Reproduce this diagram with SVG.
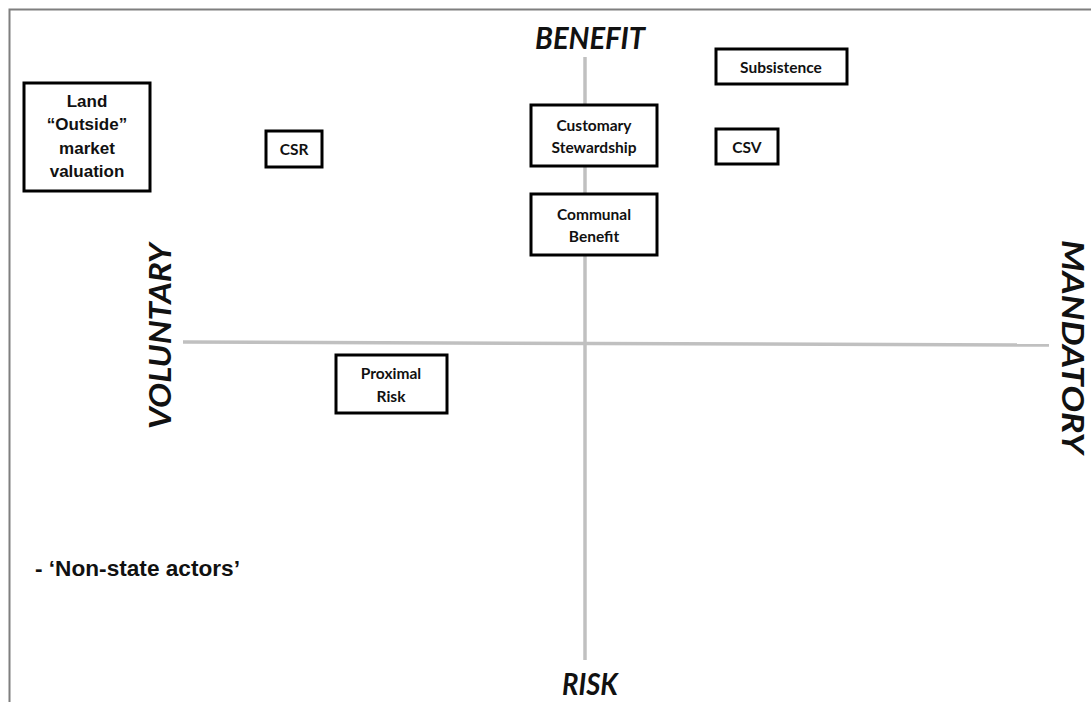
<svg xmlns="http://www.w3.org/2000/svg" width="1091" height="702" viewBox="0 0 1091 702">
  <style>
    .frame { stroke: #7f7f7f; stroke-width: 2; fill: none; }
    .axis { stroke: #c0c0c0; stroke-width: 3.5; fill: none; }
    .box { fill: #ffffff; stroke: #000000; stroke-width: 3; }
    .lbl { font-family: Lato, "Open Sans", sans-serif; font-weight: bold; font-size: 15.5px; fill: #111; text-anchor: middle; }
    .arial { font-family: "Liberation Sans", Arial, sans-serif; font-weight: bold; fill: #111; text-anchor: middle; }
    .note { font-family: "Liberation Sans", Arial, sans-serif; font-weight: bold; font-size: 22px; fill: #111; text-anchor: start; }
    .dim { font-family: Lato, "Open Sans", sans-serif; font-weight: bold; font-style: italic; font-size: 31px; fill: #111; text-anchor: middle; }
  </style>
  <rect width="1091" height="702" fill="#ffffff"/>
  <!-- page frame: top and left edges only -->
  <path class="frame" d="M1091 9.5 H9.5 V702"/>

  <g id="connectors">
    <line class="axis" x1="585" y1="57" x2="585" y2="660"/>
    <line class="axis" x1="183" y1="342" x2="1049" y2="345"/>
  </g>

  <!-- axis captions -->
  <text class="dim" x="590" y="49" textLength="110" lengthAdjust="spacingAndGlyphs">BENEFIT</text>
  <text class="dim" x="590" y="695" textLength="56" lengthAdjust="spacingAndGlyphs">RISK</text>
  <text class="dim" transform="translate(171,336) rotate(-90)" textLength="186" lengthAdjust="spacingAndGlyphs">VOLUNTARY</text>
  <text class="dim" transform="translate(1062,347) rotate(90)" textLength="214" lengthAdjust="spacingAndGlyphs">MANDATORY</text>

  <g id="node-land">
    <rect class="box" x="24" y="83" width="126" height="108"/>
    <text class="arial" font-size="17" x="87" y="107">Land</text>
    <text class="arial" font-size="17" x="87" y="130">“Outside”</text>
    <text class="arial" font-size="17" x="87" y="154">market</text>
    <text class="arial" font-size="17" x="87" y="177">valuation</text>
  </g>

  <g id="node-csr">
    <rect class="box" x="266" y="131" width="56" height="36"/>
    <text class="lbl" x="294" y="155">CSR</text>
  </g>

  <g id="node-subsistence">
    <rect class="box" x="716" y="49" width="131" height="35"/>
    <text class="lbl" x="781" y="73">Subsistence</text>
  </g>

  <g id="node-customary">
    <rect class="box" x="531" y="105" width="126" height="61"/>
    <text class="lbl" x="594" y="131">Customary</text>
    <text class="lbl" x="594" y="153">Stewardship</text>
  </g>

  <g id="node-csv">
    <rect class="box" x="716" y="129" width="62" height="35"/>
    <text class="lbl" x="747" y="153">CSV</text>
  </g>

  <g id="node-communal">
    <rect class="box" x="531" y="194" width="126" height="61"/>
    <text class="lbl" x="594" y="220">Communal</text>
    <text class="lbl" x="594" y="242">Benefit</text>
  </g>

  <g id="node-proximal">
    <rect class="box" x="336" y="355" width="111" height="58"/>
    <text class="lbl" x="391" y="379">Proximal</text>
    <text class="lbl" x="391" y="402">Risk</text>
  </g>

  <text class="note" x="35" y="576" textLength="205" lengthAdjust="spacingAndGlyphs">- ‘Non-state actors’</text>
</svg>
